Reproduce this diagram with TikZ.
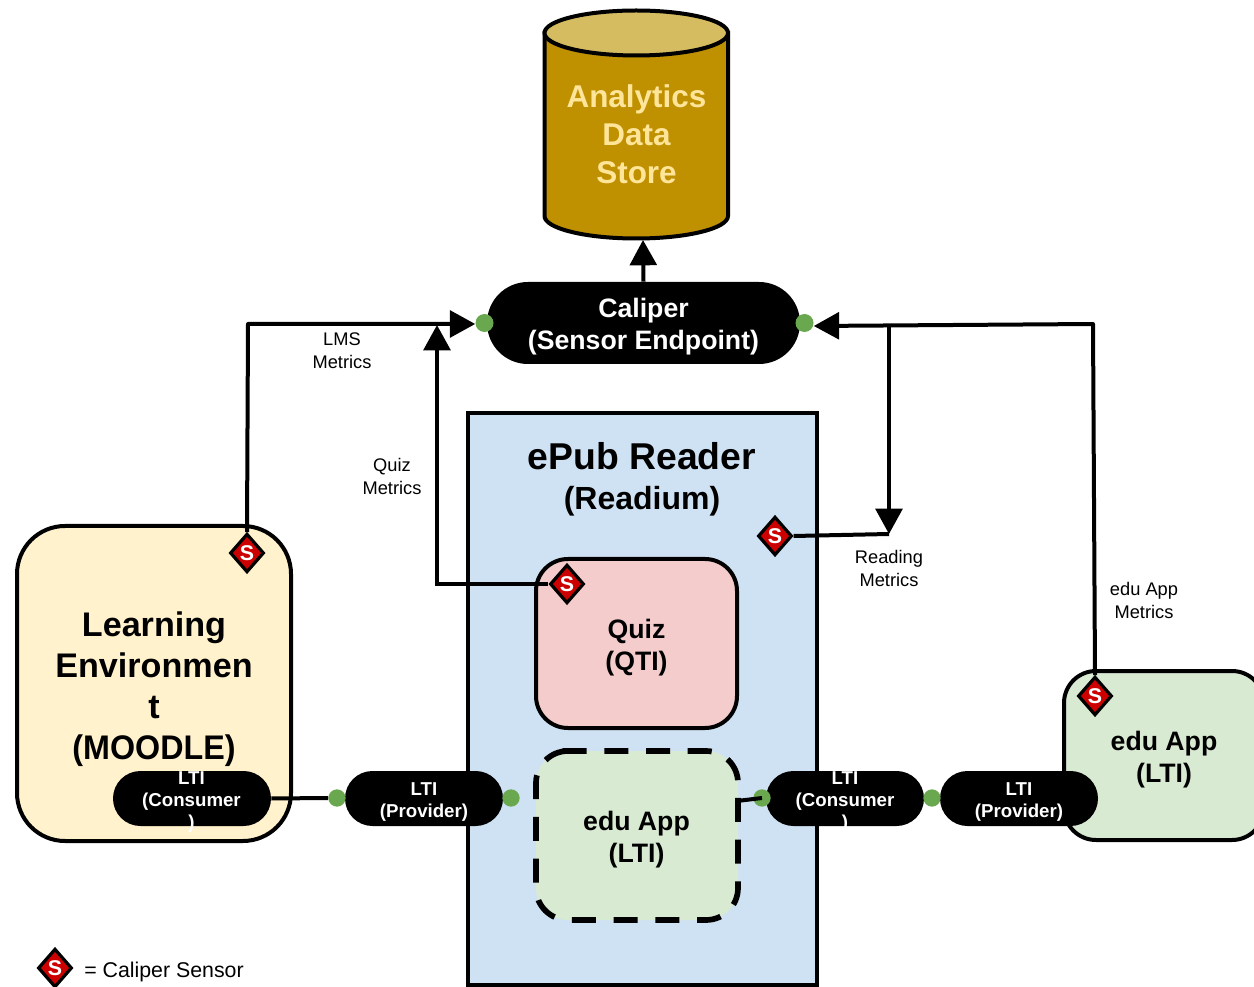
\documentclass[tikz,border=0pt]{standalone}
\usepackage{fontspec}
\setmainfont{Liberation Sans}
\usetikzlibrary{arrows.meta,shapes.geometric}
\definecolor{storeC}{HTML}{BF9000}
\definecolor{storeT}{HTML}{D6BC60}
\definecolor{storeF}{HTML}{FFE599}
\definecolor{cream}{HTML}{FFF2CC}
\definecolor{paleblue}{HTML}{CFE2F3}
\definecolor{palered}{HTML}{F4CCCC}
\definecolor{palegreen}{HTML}{D9EAD3}
\definecolor{dotC}{HTML}{6AA84F}
\definecolor{sensorC}{HTML}{CC0000}
\newcommand{\fs}[2]{\fontsize{#1pt}{#2pt}\selectfont}
\tikzset{
  px/.style={x=0.75pt,y=-0.75pt},
  box/.style={draw=black,line width=3pt,inner sep=0pt},
  boxtext/.style={align=center,inner sep=0pt,font=\bfseries\fs{20}{24}},
  pill/.style={fill=black,inner sep=0pt,minimum width=118.5pt,minimum height=41.25pt,rounded corners=20.6pt},
  pilltext/.style={align=center,text=white,inner sep=0pt,font=\bfseries\fs{14}{16.5}},
  sensor/.style={diamond,draw=black,line width=2.4pt,fill=sensorC,text=white,inner sep=0pt,minimum width=25.5pt,minimum height=29pt,font=\bfseries\fs{16}{16}},
  gdot/.style={circle,fill=dotC,inner sep=0pt,minimum size=13pt},
  note/.style={align=center,inner sep=0pt,font=\fs{13.7}{17}},
  conn/.style={line width=3pt,line cap=butt,line join=round},
  arrow/.style={conn,-{Triangle[length=19pt,width=20pt]}},
}
\begin{document}
\begin{tikzpicture}[px]
\useasboundingbox (0,0) rectangle (1254,987);
\clip (0,0) rectangle (1254,987);

% analytics store
\draw[line width=3pt,fill=storeC] (544.5,33) -- (544.5,216) arc[start angle=180,end angle=0,x radius=91.75,y radius=22.5] -- (728,33) -- cycle;
\draw[line width=3pt,fill=storeT] (636.25,33) ellipse[x radius=91.75,y radius=22.5];
\node[align=center,inner sep=0pt,text=storeF,font=\bfseries\fs{23.6}{28.5}] (store) at (636.5,134) {Analytics\\Data\\Store};
\coordinate (storeBottom) at (643,240);

% containers
\node[box,fill=paleblue,minimum width=261.75pt,minimum height=428.25pt] (epub) at (642.5,699) {};
\node[inner sep=0pt,font=\bfseries\fs{28}{28}] (epubA) at (642,456) {ePub Reader};
\node[inner sep=0pt,font=\bfseries\fs{24}{24}] (epubB) at (642,501) {(Readium)};

\node[box,fill=cream,minimum width=205.5pt,minimum height=236.25pt,rounded corners=36pt] (le) at (154,683.5) {};
\node[boxtext,font=\bfseries\fs{25.6}{30.7}] (leText) at (154,689) {Learning\\Environmen\\t\\\scalebox{0.945}[1]{(MOODLE)}};
\node[box,fill=palered,minimum width=150.75pt,minimum height=126.75pt,rounded corners=24pt] (quiz) at (636.5,643.5) {};
\node[boxtext] (quizText) at (636.5,647.5) {Quiz\\(QTI)};
\node[inner sep=0pt,outer sep=0pt,fill=palegreen,minimum width=151.5pt,minimum height=126.75pt,rounded corners=24pt] (eduIn) at (637,835.5) {};
\coordinate (eduInStart) at ([xshift=19.9pt]eduIn.north west);
\draw[line width=4.25pt,dash pattern=on 18pt off 13.3pt,rounded corners=24pt] (eduInStart) -- (eduIn.north east) -- (eduIn.south east) -- (eduIn.south west) -- (eduIn.north west) -- (eduInStart);
\node[boxtext] (eduInText) at (636.5,839.5) {edu App\\(LTI)};
\node[box,fill=palegreen,minimum width=150pt,minimum height=126.75pt,rounded corners=24pt] (eduOut) at (1164,755.5) {};
\node[boxtext] (eduOutText) at (1164,759.5) {edu App\\(LTI)};

% caliper endpoint
\node[fill=black,inner sep=0pt,minimum width=234.75pt,minimum height=61.5pt,rounded corners=30.7pt] (caliper) at (643.5,323) {};
\node[boxtext,text=white] (caliperText) at (643.5,327) {Caliper\\(Sensor Endpoint)};

% LTI pills
\node[pill] (lc1) at (192,798.5) {};
\node[pilltext] (lc1Text) at (191.5,802) {LTI\\(Consumer\\)};
\node[pill] (lp1) at (424,798.5) {};
\node[pilltext] (lp1Text) at (424,802.5) {LTI\\(Provider)};
\node[pill] (lc2) at (845,798.5) {};
\node[pilltext] (lc2Text) at (845,802) {LTI\\(Consumer\\)};
\node[pill] (lp2) at (1019,798.5) {};
\node[pilltext] (lp2Text) at (1019,802.5) {LTI\\(Provider)};

% dots
\node[gdot,minimum size=13.5pt] (dCalL) at (484.5,323) {};
\node[gdot,minimum size=13.5pt] (dCalR) at (804.5,323) {};
\node[gdot] (dLc1) at (337,798) {};
\node[gdot] (dLp1) at (511,798) {};
\node[gdot] (dLc2) at (762,798) {};
\node[gdot] (dLp2) at (932,798) {};

% sensors
\node[sensor] (sLe) at (247,553) {S};
\node[sensor] (sQuiz) at (567,584) {S};
\node[sensor] (sRead) at (775,536) {S};
\node[sensor] (sEdu) at (1095,696) {S};
\node[sensor] (sLegend) at (55,968) {S};

% waypoints
\coordinate (cLe) at (248,324);
\coordinate (cEdu) at (1093,324);
\coordinate (cTee) at (889,326);
\coordinate (cRead) at (889,534);
\coordinate (cQuizA) at (435,584);
\coordinate (cQuizB) at (437,582);
\coordinate (cQuizT) at (437,325);
\coordinate (cEduIn) at (737,801);

% connectors
\draw[arrow] (caliper.north) -- (storeBottom);
\draw[arrow] (sLe.north) -- (cLe) -- (dCalL.west |- 0,324);
\draw[conn] (sQuiz.west) -- (cQuizA);
\draw[arrow] (cQuizB) -- (cQuizT);
\draw[arrow] (sEdu.north) -- (cEdu) -- (dCalR.east |- 0,326);
\draw[arrow] (cTee) -- (cRead);
\draw[conn] (sRead.east) -- (cRead);
\draw[conn] (lc1.east) -- (dLc1.west);
\draw[conn] (cEduIn) -- (dLc2.center);

% labels
\node[note] (nLms) at (342,351) {LMS\\Metrics};
\node[note] (nQuiz) at (392,476.5) {Quiz\\Metrics};
\node[note] (nRead) at (889,568.5) {Reading\\Metrics};
\node[note] (nEdu) at (1144,600.5) {edu App\\Metrics};
\node[anchor=west,inner sep=0pt,font=\fs{16}{20}] (nLegend) at (84,972) {= Caliper Sensor};
\end{tikzpicture}
\end{document}
